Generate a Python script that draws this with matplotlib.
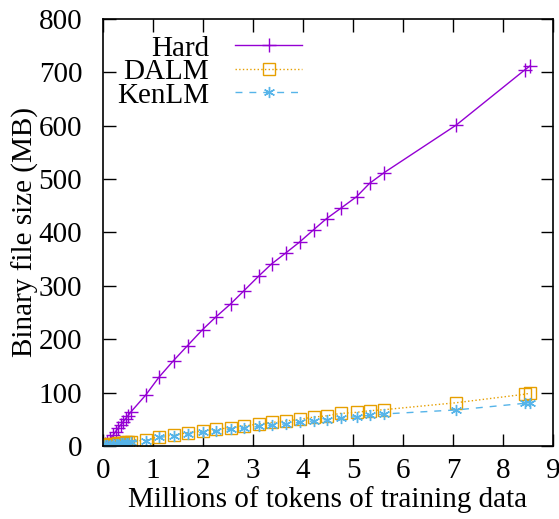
import matplotlib
matplotlib.use("Agg")
import matplotlib.pyplot as plt

plt.rcParams['font.family'] = ['Liberation Serif', 'DejaVu Serif']
plt.rcParams['font.size'] = 21

# training data size (millions of tokens) and model size (MB)
tokens = [0.0, 0.03, 0.08, 0.14, 0.2, 0.25, 0.3, 0.35, 0.4, 0.45, 0.5, 0.55,
          0.85, 1.12, 1.41, 1.69, 1.99, 2.26, 2.55, 2.82, 3.11, 3.37, 3.66,
          3.93, 4.21, 4.47, 4.75, 5.07, 5.33, 5.62, 7.06, 8.44, 8.54]
hard = [0, 3, 8, 13, 20, 27, 33, 39, 45, 51, 57, 63,
        95, 129, 160, 188, 218, 242, 266, 291, 318, 341, 362,
        382, 405, 426, 445, 467, 492, 512, 601, 705, 712]
dalm = [0, 1, 2, 3, 4, 4.5, 5, 6, 6.5, 7, 7.5, 8,
        11, 17.5, 20.5, 25, 28, 31, 34.5, 37.5, 41, 44, 47,
        50, 54, 56.5, 61, 63, 66, 68, 81, 97, 99]
kenlm = [0, 1, 1.5, 2.5, 3.5, 4, 4.5, 5, 5.5, 6, 6.5, 7,
         10, 16, 19, 22.5, 25.5, 28, 31, 33.5, 36.5, 39, 41.5,
         44, 47, 49.5, 52, 55, 57.5, 60, 67.5, 80, 80]

fig = plt.figure(figsize=(5.59, 5.19), dpi=100)
ax = fig.add_axes([0.1843, 0.1407, 0.805, 0.8227])

ax.plot(tokens, hard, color='#9400D3', lw=1, ls='-', marker='+',
        ms=10, mew=1, label='Hard')
ax.plot(tokens, dalm, color='#E69F00', lw=1, ls=':', marker='s',
        ms=8, mfc='none', mew=1, label='DALM')
ax.plot(tokens, kenlm, color='#56B4E9', lw=1, ls=(0, (5, 5)),
        marker=(6, 2, 0), ms=8, mew=1, label='KenLM')

ax.set_xlim(0, 9)
ax.set_ylim(0, 800)
ax.set_xticks(range(0, 10))
ax.set_yticks(range(0, 801, 100))
ax.tick_params(direction='in', length=9, width=1, top=True, right=True,
               labelsize=21)
ax.tick_params(axis='y', pad=15)
ax.tick_params(axis='x', pad=9)
for s in ax.spines.values():
    s.set_linewidth(1.2)

ax.set_xlabel('Millions of tokens of training data', fontsize=21, labelpad=1)
ax.set_ylabel('Binary file size (MB)', fontsize=21, labelpad=0)

ax.legend(loc='upper left', bbox_to_anchor=(-0.015, 1.01), frameon=False,
          markerfirst=False, handlelength=2.3, handletextpad=0.9,
          labelspacing=-0.1, borderpad=0.2, fontsize=21)

fig.savefig('out.png', dpi=100)
